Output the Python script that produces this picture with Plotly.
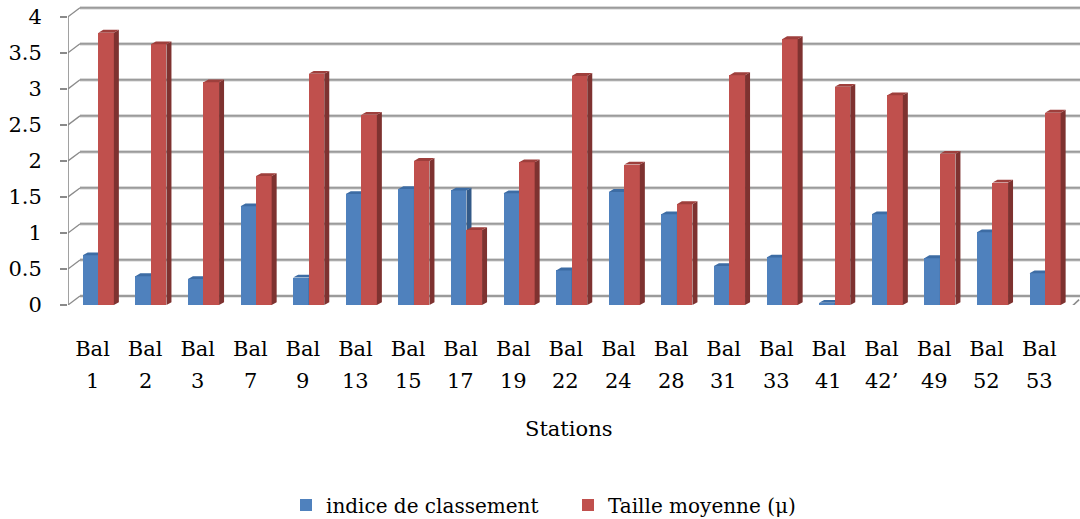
import numpy as np
import plotly.graph_objects as go

# Stations and measured values
stations = ["Bal 1", "Bal 2", "Bal 3", "Bal 7", "Bal 9", "Bal 13", "Bal 15", "Bal 17",
            "Bal 19", "Bal 22", "Bal 24", "Bal 28", "Bal 31", "Bal 33", "Bal 41",
            "Bal 42’", "Bal 49", "Bal 52", "Bal 53"]
indice_classement = [0.69, 0.40, 0.36, 1.37, 0.38, 1.54, 1.61, 1.59, 1.55, 0.48,
                     1.57, 1.26, 0.54, 0.66, 0.03, 1.26, 0.65, 1.01, 0.44]
taille_moyenne = [3.78, 3.62, 3.09, 1.79, 3.21, 2.64, 2.00, 1.04, 1.98, 3.18,
                  1.95, 1.40, 3.19, 3.69, 3.03, 2.91, 2.10, 1.70, 2.67]
y_ticks = [0, 0.5, 1, 1.5, 2, 2.5, 3, 3.5, 4]

FONT = "DejaVu Serif"
BLUE, BLUE_SIDE, BLUE_TOP = "#4F81BD", "#335A88", "#3D6CA4"
RED, RED_SIDE, RED_TOP = "#C0504D", "#7E3230", "#9E3F3C"
GRID, GRID_HALO = "#8A8A8A", "#CDCDCD"

x = np.arange(len(stations))
BAR_W = 0.296            # width of each bar (x units)
DX, DY = 0.095, 0.039    # bar depth (perspective offset)
WX, WY = 0.228, 0.125    # wall depth (perspective offset)
X0, X1 = -0.466, 18.62   # front floor extent
XR = 18.774              # right edge of the plotting range
YMAX = 4.15
PLOT_H = 299             # plot area height in px, for placing text below it


def faces(values, offset):
    """Side and top faces of each bar, as None-separated polygons."""
    sx, sy, tx, ty = [], [], [], []
    for xi, v in zip(x, values):
        l = xi + offset
        r = l + BAR_W
        sx += [r, r + DX, r + DX, r, r, None]
        sy += [0, DY, v + DY, v, 0, None]
        tx += [l, l + DX, r + DX, r, l, None]
        ty += [v, v + DY, v + DY, v, v, None]
    return sx, sy, tx, ty


fig = go.Figure()

series = [
    ("indice de classement", indice_classement, -0.186, BLUE, BLUE_SIDE, BLUE_TOP, 0),
    ("Taille moyenne (μ)", taille_moyenne, 0.110, RED, RED_SIDE, RED_TOP, 1),
]
for name, vals, off, c_front, c_side, c_top, z in series:
    fig.add_trace(go.Bar(
        x=x, y=vals, width=BAR_W, offset=off, name=name,
        marker=dict(color=c_front, line=dict(width=0)), zorder=z,
    ))
    sx, sy, tx, ty = faces(vals, off)
    fig.add_trace(go.Scatter(x=sx, y=sy, mode="lines", fill="toself", fillcolor=c_side,
                             line=dict(width=0, color=c_side), showlegend=False,
                             hoverinfo="skip", zorder=z))
    fig.add_trace(go.Scatter(x=tx, y=ty, mode="lines", fill="toself", fillcolor=c_top,
                             line=dict(width=0, color=c_top), showlegend=False,
                             hoverinfo="skip", zorder=z))

shapes = []
# back wall gridlines (dark core on a soft halo), plus the diagonal joints on the left wall
for t in y_ticks:
    shapes.append(dict(type="line", xref="x", yref="y", x0=X0 + WX, x1=XR, y0=t + WY,
                       y1=t + WY, line=dict(color=GRID_HALO, width=3.2), layer="below"))
    shapes.append(dict(type="line", xref="x", yref="y", x0=X0 + WX, x1=XR, y0=t + WY,
                       y1=t + WY, line=dict(color=GRID, width=1.3), layer="below"))
    shapes.append(dict(type="line", xref="x", yref="y", x0=X0, x1=X0 + WX, y0=t,
                       y1=t + WY, line=dict(color=GRID, width=1.3), layer="below"))
# front vertical axis and floor edge
shapes.append(dict(type="line", xref="x", yref="y", x0=X0, x1=X0, y0=0, y1=4,
                   line=dict(color=GRID, width=1.6), layer="below"))
shapes.append(dict(type="line", xref="x", yref="y", x0=X0, x1=X1, y0=-0.02, y1=-0.02,
                   line=dict(color=GRID, width=2.2), layer="below"))
shapes.append(dict(type="line", xref="x", yref="y", x0=X1, x1=X1 + WX * 0.6, y0=-0.02,
                   y1=WY * 0.6, line=dict(color=GRID, width=1.6), layer="below"))

# station labels: "Bal" as tick text, the station number on a second line below it
prefixes = [s.split(" ", 1)[0] for s in stations]
numbers = [s.split(" ", 1)[1] for s in stations]
annotations = [
    dict(text=n, xref="x", yref="paper", x=xi, y=-76 / PLOT_H, xanchor="center",
         yanchor="middle", showarrow=False, font=dict(size=21, family=FONT))
    for xi, n in zip(x, numbers)
]
annotations.append(dict(text="Stations", xref="paper", yref="paper", x=0.495,
                        y=-124 / PLOT_H, xanchor="center", yanchor="middle",
                        showarrow=False, font=dict(size=21, family=FONT)))

fig.update_layout(
    width=1080, height=519,
    margin=dict(l=68, r=0, t=6, b=214, autoexpand=False),
    plot_bgcolor="white", paper_bgcolor="white",
    font=dict(family=FONT, color="black", size=21),
    bargap=0, showlegend=True,
    shapes=shapes,
    xaxis=dict(range=[X0, XR], tickvals=x, ticktext=prefixes, showgrid=False,
               zeroline=False, showline=False, ticks="", ticklabelstandoff=29,
               tickfont=dict(size=21, family=FONT)),
    yaxis=dict(range=[0, YMAX], tickvals=y_ticks, ticktext=[f"{t:g}" for t in y_ticks],
               showgrid=False, zeroline=False, showline=False, ticks="outside",
               ticklen=7, tickwidth=1.5, tickcolor=GRID, ticklabelstandoff=14,
               tickfont=dict(size=21, family=FONT)),
    legend=dict(orientation="h", x=(286 - 68) / 1012, xanchor="left", yref="container",
                y=0.027, yanchor="middle", font=dict(size=20, family=FONT), itemwidth=30,
                entrywidth=237, traceorder="normal"),
    annotations=annotations,
)

fig.write_html("out.html")
